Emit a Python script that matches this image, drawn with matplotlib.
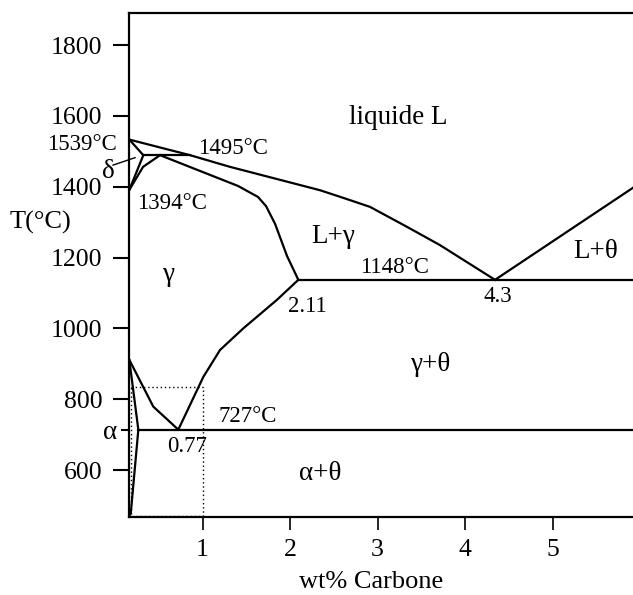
import matplotlib
matplotlib.use('Agg')
import matplotlib.pyplot as plt

plt.rcParams['font.family'] = ['Liberation Serif', 'DejaVu Serif']

# ---- data (wt% C, T in degC) ----
x_fe = 0.163
liquidus_c = [0.163, 0.857, 1.314, 2.343, 2.65, 2.914, 3.334, 3.714, 4.343]
liquidus_t = [1533, 1489, 1456, 1390, 1365, 1343, 1287, 1235, 1137]
liq_theta_c = [4.343, 5.92]
liq_theta_t = [1137, 1397]
delta_c = [0.163, 0.323, 0.163]
delta_t = [1533, 1489, 1391]
gamma_delta_c = [0.163, 0.32, 0.514]
gamma_delta_t = [1391, 1456, 1489]
peritectic_c = [0.323, 0.857]
peritectic_t = [1489, 1489]
solidus_c = [0.514, 1.406, 1.634, 1.726, 1.829, 1.966, 2.095]
solidus_t = [1489, 1402, 1371, 1345, 1295, 1204, 1137]
eutectic_c = [2.095, 5.92]
eutectic_t = [1137, 1137]
acm_c = [2.095, 1.848, 1.466, 1.2, 1.009, 0.723]
acm_t = [1137, 1080, 1000, 939, 863, 714]
a3_c = [0.163, 0.437, 0.723]
a3_t = [911, 779, 714]
alpha_c = [0.163, 0.266, 0.18, 0.163]
alpha_t = [911, 714, 479, 470]
eutectoid_c = [0.266, 5.92]
eutectoid_t = [714, 714]
dot_c = [0.18, 1.0, 1.0, 0.18, 0.18]
dot_t = [835, 835, 470, 470, 835]

xticks = [1, 2, 3, 4, 5]
yticks = [600, 800, 1000, 1200, 1400, 1600, 1800]

labels = [
    ("liquide L", 2.674, 1577, 'left', 19.5),
    ("1495°C", 0.949, 1493, 'left', 16.5),
    ("1394°C", 0.251, 1338, 'left', 16.5),
    ("γ", 0.531, 1134, 'left', 19.5),
    ("L+γ", 2.248, 1241, 'left', 19.5),
    ("1148°C", 2.80, 1156, 'left', 16.5),
    ("2.11", 1.977, 1047, 'left', 16.5),
    ("4.3", 4.206, 1074, 'left', 16.5),
    ("L+θ", 5.234, 1199, 'left', 19.5),
    ("γ+θ", 3.371, 880, 'left', 19.5),
    ("727°C", 1.177, 736, 'left', 16.5),
    ("0.77", 0.591, 652, 'left', 16.5),
    ("α+θ", 2.099, 572, 'left', 19.5),
    ("1539°C", 0.019, 1504, 'right', 16.5),
    ("δ", 0.0, 1425, 'right', 19.5),
]

fig = plt.figure(figsize=(6.33, 5.95), dpi=100)
ax = fig.add_axes([0.2043, 0.1319, 0.7957, 0.8457])
ax.set_xlim(0.163, 5.92)
ax.set_ylim(468.7, 1889.5)

lw = 1.6
for c, t in [(liquidus_c, liquidus_t), (liq_theta_c, liq_theta_t),
             (delta_c, delta_t), (gamma_delta_c, gamma_delta_t),
             (peritectic_c, peritectic_t), (solidus_c, solidus_t),
             (eutectic_c, eutectic_t), (acm_c, acm_t), (a3_c, a3_t),
             (alpha_c, alpha_t), (eutectoid_c, eutectoid_t)]:
    ax.plot(c, t, color='black', lw=lw, solid_joinstyle='miter')
ax.plot(dot_c, dot_t, color='black', lw=1.0, ls=(0, (1, 2)))

# leader line for delta
ax.plot([-0.023, 0.229], [1461, 1482], color='black', lw=1.0, clip_on=False)

for s, x, y, ha, fs in labels:
    ax.text(x, y, s, ha=ha, va='baseline', fontsize=fs, clip_on=False)

for side in ['left', 'bottom', 'top']:
    ax.spines[side].set_linewidth(lw)
ax.spines['right'].set_visible(False)

ax.set_xticks(xticks)
ax.set_yticks(yticks)
ax.set_yticks([714], labels=['α'], minor=True)
ax.tick_params(axis='x', direction='out', length=9.5, width=1.2, pad=7, labelsize=18.5)
ax.tick_params(axis='y', which='major', direction='out', length=11.5, width=1.5, pad=8, labelsize=18.5)
ax.tick_params(axis='y', which='minor', direction='out', length=6, width=1.5, pad=3, labelsize=19.5)
ax.tick_params(axis='x', which='minor', bottom=False)

fig.text(10 / 633, 1 - 229 / 595, "T(°C)", ha='left', va='baseline', fontsize=19)
fig.text(371.5 / 633, 0.012, "wt% Carbone", ha='center', va='baseline', fontsize=19)

fig.savefig('out.png', dpi=100)
